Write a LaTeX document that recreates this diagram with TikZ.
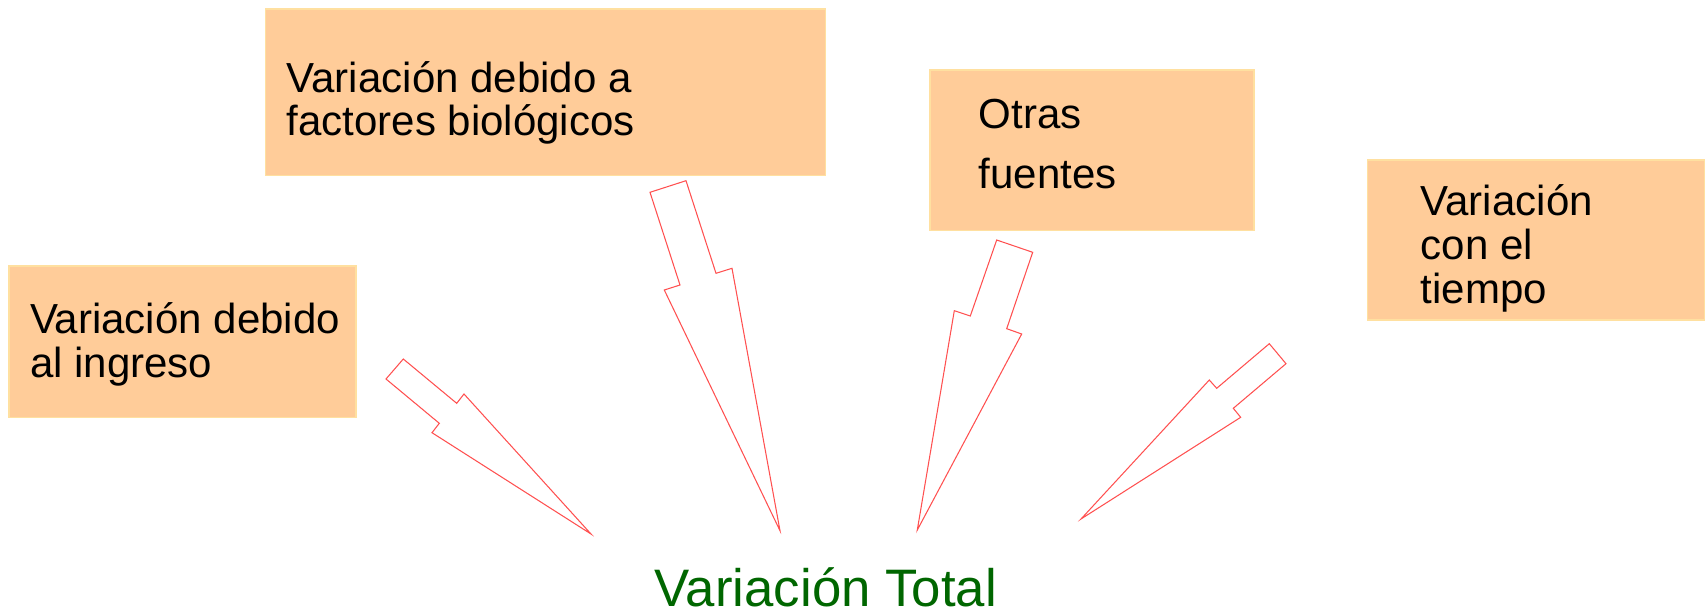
\documentclass[tikz,border=0pt]{standalone}
\usepackage{fontspec}
\setmainfont{Liberation Sans}

\definecolor{boxfill}{RGB}{255,204,153}
\definecolor{boxline}{RGB}{255,224,160}
\definecolor{arrowline}{RGB}{255,80,80}
\definecolor{totalgreen}{RGB}{0,102,0}

\begin{document}
\begin{tikzpicture}[x=0.01cm,y=-0.01cm,
	box/.style={fill=boxfill,draw=boxline,line width=0.4pt},
	lbl/.style={anchor=base west,inner sep=0pt,align=left,font=\fontsize{11.95}{12.5}\selectfont},
	blockarrow/.style={draw=arrowline,line width=0.3pt,line join=miter}]

	\useasboundingbox (0,0) rectangle (1705,612);

	% The Boxes
	\filldraw[box] (9,266) rectangle (356,417.3);
	\filldraw[box] (265.6,9) rectangle (825.5,175.7);
	\filldraw[box] (930,70) rectangle (1254,230.7);
	\filldraw[box] (1367.3,160) rectangle (1705,320);

	% Labels (base = last line)
	\node[lbl] (ingreso) at (29.3,377.3) {Variación debido\\al ingreso};
	\node[lbl] (biologicos) at (286,136) {Variación debido a\\factores biológicos};
	\node[lbl,font=\fontsize{11.95}{16.9}\selectfont] (otras) at (978,188.3) {Otras\\fuentes};
	\node[lbl] (tiempo) at (1420,303.3) {Variación\\con el\\tiempo};
	\node[anchor=base west,inner sep=0pt,text depth=0pt,text=totalgreen,font=\fontsize{15}{17}\selectfont] (total) at (654,606.7) {Variación Total};

	% id: ingreso
	\draw[blockarrow] (403.3,359) -- (386,379) -- (439.3,423.3) -- (432,432.7)
		-- (591,534) -- (464,394) -- (456.7,403.3) -- cycle;

	% id: biologicos
	\draw[blockarrow] (686,180.7) -- (650,192.3) -- (680,285) -- (664.3,290)
		-- (780,530.7) -- (732,268.3) -- (716,273.3) -- cycle;

	% id: otras
	\draw[blockarrow] (996.7,240) -- (1032.7,252.3) -- (1006.7,328.7) -- (1021.7,334)
		-- (917.3,530) -- (954.3,310.7) -- (970.3,316) -- cycle;

	% id: tiempo
	\draw[blockarrow] (1269.3,343.7) -- (1286,363.7) -- (1233.3,408.3) -- (1240.7,417.3)
		-- (1081,519) -- (1209.3,380) -- (1216.7,388.3) -- cycle;

\end{tikzpicture}
\end{document}
